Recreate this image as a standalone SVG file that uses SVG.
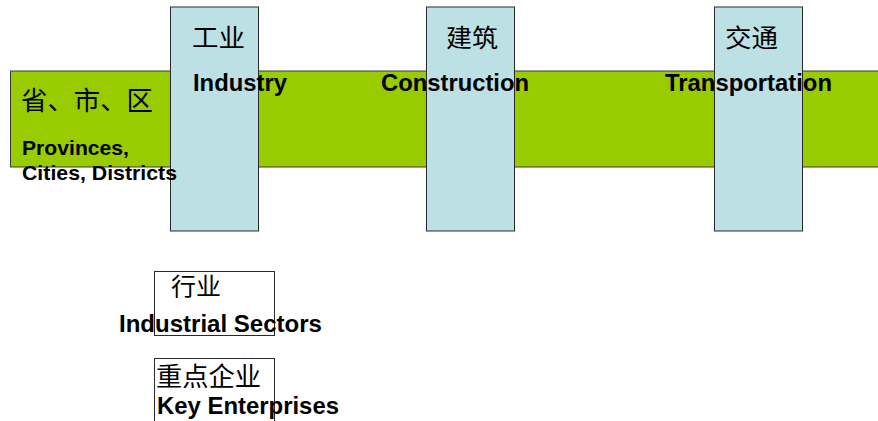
<svg xmlns="http://www.w3.org/2000/svg" width="878" height="421" viewBox="0 0 878 421">
  <style>
    .band { fill: #99cc00; stroke: #3a3a3a; stroke-width: 1; }
    .col { fill: #bce0e3; stroke: #2a2a2a; stroke-width: 1; }
    .box { fill: #ffffff; stroke: #2a2a2a; stroke-width: 1; }
    .en { font-family: "Liberation Sans", Arial, sans-serif; font-weight: bold; font-size: 24px; fill: #000; }
    .en.sm { font-size: 21px; }
    .zh { font-family: "Noto Sans CJK SC", "Liberation Sans", sans-serif; fill: #000; }
  </style>

  <!-- regional band -->
  <g id="regions">
    <rect class="band" x="10.5" y="71" width="880" height="96"/>
  </g>

  <!-- sector columns -->
  <g id="industry">
    <rect class="col" x="170.5" y="7" width="88" height="224"/>
  </g>
  <g id="construction">
    <rect class="col" x="426.5" y="7" width="88" height="224"/>
  </g>
  <g id="transportation">
    <rect class="col" x="714.5" y="7" width="88" height="224"/>
  </g>

  <!-- lower boxes -->
  <g id="sectors">
    <rect class="box" x="154.5" y="271.5" width="120" height="64"/>
  </g>
  <g id="enterprises">
    <rect class="box" x="154.5" y="358.5" width="120" height="80"/>
  </g>

  <g id="connectors"></g>

  <!-- labels -->
  <g id="labels">
    <text class="zh" x="21" y="110" font-size="26" textLength="132" lengthAdjust="spacingAndGlyphs">省、市、区</text>
    <text class="en sm" x="22" y="155" textLength="107" lengthAdjust="spacingAndGlyphs">Provinces,</text>
    <text class="en sm" x="22" y="180" textLength="155" lengthAdjust="spacingAndGlyphs">Cities, Districts</text>

    <text class="zh" x="192" y="47" font-size="25" textLength="53" lengthAdjust="spacingAndGlyphs">工业</text>
    <text class="en" x="193" y="91" textLength="94" lengthAdjust="spacingAndGlyphs">Industry</text>

    <text class="zh" x="446" y="47" font-size="25" textLength="52" lengthAdjust="spacingAndGlyphs">建筑</text>
    <text class="en" x="381" y="91" textLength="148" lengthAdjust="spacingAndGlyphs">Construction</text>

    <text class="zh" x="725" y="47" font-size="25" textLength="53" lengthAdjust="spacingAndGlyphs">交通</text>
    <text class="en" x="665" y="91" textLength="167" lengthAdjust="spacingAndGlyphs">Transportation</text>

    <text class="zh" x="171" y="295" font-size="24" textLength="50" lengthAdjust="spacingAndGlyphs">行业</text>
    <text class="en" x="119" y="332" textLength="203" lengthAdjust="spacingAndGlyphs">Industrial Sectors</text>

    <text class="zh" x="156" y="386" font-size="26" textLength="105" lengthAdjust="spacingAndGlyphs">重点企业</text>
    <text class="en" x="157" y="414" textLength="182" lengthAdjust="spacingAndGlyphs">Key Enterprises</text>
  </g>
</svg>
